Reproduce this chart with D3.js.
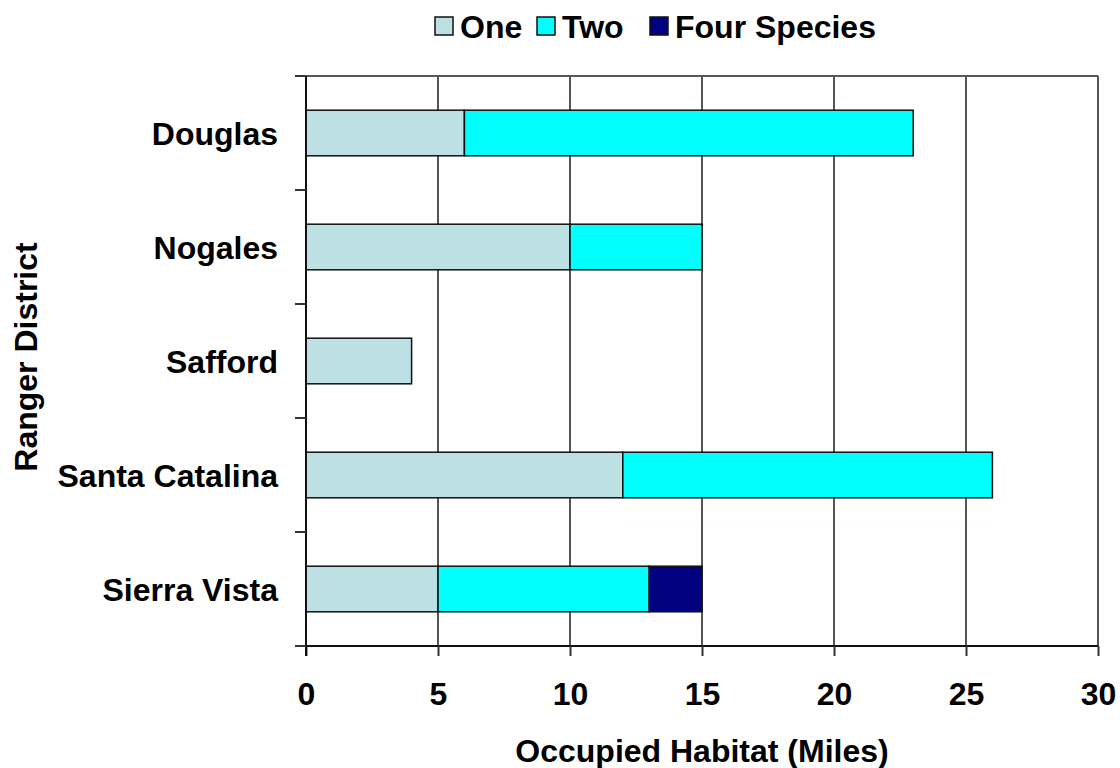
<!DOCTYPE html>
<html>
<head>
<meta charset="utf-8">
<script src="https://cdn.jsdelivr.net/npm/d3@7"></script>
<style>
  body { margin: 0; background: #fff; }
  text { font-family: "Liberation Sans", Arial, sans-serif; font-weight: bold; fill: #000; }
</style>
</head>
<body>
<svg id="chart" width="1120" height="768"></svg>
<script>
const districts = ["Douglas", "Nogales", "Safford", "Santa Catalina", "Sierra Vista"];
const seriesNames = ["One", "Two", "Four Species"];
const oneValues = [6, 10, 4, 12, 5];
const twoValues = [17, 5, 0, 14, 8];
const fourValues = [0, 0, 0, 0, 2];
const xTicks = [0, 5, 10, 15, 20, 25, 30];
const colors = ["#BCE0E3", "#00FFFF", "#000080"];

(function () {
const svg = d3.select("#chart");
const pLeft = 306, pRight = 1098, pTop = 76, pBottom = 646;
const fs = 32;

const x = d3.scaleLinear().domain([0, 30]).range([pLeft, pRight]);
const y = d3.scaleBand().domain(districts).range([pTop, pBottom]).paddingInner(0.6).paddingOuter(0.3);

const rows = districts.map((d, i) => ({ district: d, One: oneValues[i], Two: twoValues[i], "Four Species": fourValues[i] }));
const stacked = d3.stack().keys(seriesNames)(rows);

// gridlines
svg.append("g").selectAll("line").data(xTicks.filter(t => t > 0)).join("line")
  .attr("x1", d => x(d)).attr("x2", d => x(d))
  .attr("y1", pTop).attr("y2", pBottom)
  .attr("stroke", "#555").attr("stroke-width", 2);
svg.append("line").attr("x1", pLeft).attr("x2", pRight).attr("y1", pTop).attr("y2", pTop)
  .attr("stroke", "#555").attr("stroke-width", 2);

// bars
svg.append("g").selectAll("g").data(stacked).join("g")
  .attr("fill", (d, i) => colors[i])
  .selectAll("rect").data(d => d.filter(s => s[1] - s[0] > 0)).join("rect")
  .attr("x", d => x(d[0]))
  .attr("width", d => x(d[1]) - x(d[0]))
  .attr("y", d => y(d.data.district))
  .attr("height", y.bandwidth())
  .attr("stroke", "#111").attr("stroke-width", 1.5);

// x axis
const xAxis = svg.append("g").attr("transform", `translate(0,${pBottom})`)
  .call(d3.axisBottom(x).tickValues(xTicks).tickSize(10).tickPadding(0).tickFormat(d3.format("d")));
xAxis.select(".domain").attr("stroke", "#111").attr("stroke-width", 2).attr("d", `M${pLeft - 11},0H${pRight}`);
xAxis.selectAll(".tick line").attr("stroke", "#333").attr("stroke-width", 2);
xAxis.selectAll(".tick text").attr("font-size", fs).attr("y", 59).attr("dy", 0)
  .style("font-family", '"Liberation Sans", Arial, sans-serif').style("font-weight", "bold").attr("fill", "#000");

// y axis line and category ticks
svg.append("line").attr("x1", pLeft).attr("x2", pLeft).attr("y1", pTop).attr("y2", pBottom + 10)
  .attr("stroke", "#111").attr("stroke-width", 2);
const boundaries = districts.map(d => y(d) - y.step() * y.paddingInner() / 2).concat([pBottom]);
boundaries[0] = pTop;
svg.append("g").selectAll("line").data(boundaries).join("line")
  .attr("x1", pLeft - 11).attr("x2", pLeft)
  .attr("y1", d => d).attr("y2", d => d)
  .attr("stroke", "#333").attr("stroke-width", 2);

svg.append("g").selectAll("text").data(districts).join("text")
  .attr("x", 278).attr("y", d => y(d) + y.bandwidth() / 2 + 12)
  .attr("text-anchor", "end").attr("font-size", fs).text(d => d);

// axis titles
svg.append("text").attr("x", (pLeft + pRight) / 2).attr("y", 762)
  .attr("text-anchor", "middle").attr("font-size", fs).text("Occupied Habitat (Miles)");
svg.append("text").attr("transform", "translate(37,357) rotate(-90)")
  .attr("text-anchor", "middle").attr("font-size", fs).text("Ranger District");

// legend
const legendX = [435, 537, 650];
const lg = svg.append("g").selectAll("g").data(seriesNames).join("g")
  .attr("transform", (d, i) => `translate(${legendX[i]},17)`);
lg.append("rect").attr("width", 18).attr("height", 18)
  .attr("fill", (d, i) => colors[i]).attr("stroke", "#111").attr("stroke-width", 1.5);
lg.append("text").attr("x", 25).attr("y", 21).attr("font-size", fs).text(d => d);
})();
</script>
</body>
</html>
